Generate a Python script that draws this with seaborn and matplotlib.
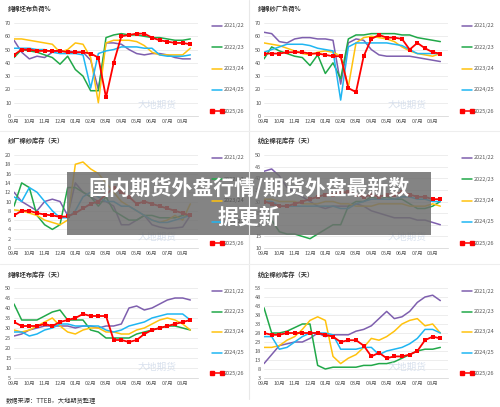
import matplotlib
matplotlib.use("Agg")
import matplotlib.pyplot as plt
import seaborn as sns
import pandas as pd
from matplotlib.patches import Rectangle

sns.set_theme(style="white")
plt.rcParams['font.family'] = ['Noto Sans CJK SC', 'DejaVu Sans']

months = ["09月", "10月", "11月", "12月", "01月", "02月", "03月", "04月", "05月", "06月", "07月", "08月"]
seasons = ["2021/22", "2022/23", "2023/24", "2024/25", "2025/26"]
colors = ["#7E5FAE", "#21A849", "#FFC20E", "#1FB6F2", "#FF0000"]

titles = ["纯棉坯布负荷%", "纯棉纱厂负荷%", "纱厂棉纱库存（天）", "纺企棉花库存（天）", "纯棉坯布库存（天）", "纺企棉纱库存（天）"]
yticks = [list(range(0, 71, 10)), list(range(0, 71, 10)), list(range(0, 21, 2)),
          list(range(10, 51, 5)), list(range(5, 51, 5)), list(range(3, 54, 5))]

p1 = [
    [57,48,43,45,44,48,49,49,48,48,42,20,55,55,54,50,47,46,47,47,46,44,43,43],
    [44,50,49,48,46,44,39,45,35,30,19,19,59,61,62,61,61,60,59,59,58,57,57,58],
    [58,58,57,56,55,54,48,50,55,54,44,10,55,57,57,57,56,53,48,46,46,46,46,51],
    [51,51,51,50,50,48,47,47,47,46,21,47,49,50,52,52,52,51,51,46,45,45,45,46],
    [46,50,50,49,49,49,49,48,48,48,47,44,14,40,60,61,62,62,59,57,56,55,55,54],
]
p2 = [
    [63,62,56,55,58,59,59,58,58,57,24,55,58,57,50,46,45,45,45,45,44,43,42,41],
    [43,52,49,47,45,44,38,46,32,40,28,58,61,61,62,62,62,62,61,61,59,58,57,56],
    [55,54,53,51,49,47,46,48,49,48,45,22,55,59,60,59,58,56,52,49,47,46,45,47],
    [48,50,52,54,54,54,53,51,50,49,12,52,55,55,55,55,55,54,53,50,47,47,47,47],
    [47,47,47,48,48,48,47,47,46,45,45,21,18,45,58,61,59,59,58,50,55,51,48,47],
]
p3 = [
    [12,10,9,8,10,10.5,10,7,14,12,11,10,10,9,5,5,6,7,5,4.5,4.2,4.3,4.5,7],
    [9,14,13,7,5,4,5,13,13,12,11,9,11,8,7,6,6,7,7,6.5,6.5,6.5,7,7],
    [8.2,8,7.5,7,6,5.5,5,6,18,18.5,17,16,14,12,10,9,8,7,6,5.5,6,7,6,9.5],
    [11,10,13,12,10,8,6.5,6.5,8,11,12,11,10,10,9,9,8,7,6,5.5,5.5,6,6.5,7],
    [7,8,8,7.5,7.2,7,6.7,6.8,7.5,8.5,9.5,10,11.5,13,12,11,9.5,10,9.5,9,8.5,8,7.5,7],
]
p4 = [
    [43,44,41,36,34,32,30,28,27,28,28,28,29,28,26,25,24,23,23,23,22,22,21,20],
    [23,22,17,16,16,15,14,16,18,20,20,28,30,30,32,31,32,31,31,29,27,27,28,30],
    [31,31,30,30,30,29,29,29,30,30,29,29,28,28,28,29,29,29,29,28,28,28,29,28],
    [30,30,28,28,28,28,28,28,28,28,27,27,29,30,31,31,31,31,32,32,31,31,30,30],
    [30,29,28,28,29,30,31,32,33,33,34,34,33,32,33,32,33,33,34,33,32,32,31,31],
]
p5 = [
    [26,27,29,30,31,31,31,31,30,31,31,30,31,31,32,40,41,39,40,42,44,45,45,44],
    [42,34,34,34,36,38,39,34,34,34,29,28,25,25,25,25,27,28,29,30,31,31,30,29],
    [29,28,29,31,33,35,31,28,27,29,30,30,28,28,27,27,29,30,32,34,35,34,32,29],
    [28,28,26,27,29,30,32,32,31,31,31,31,29,28,29,31,32,33,35,36,37,37,37,34],
    [33,31,31,31,32,31,33,34,35,37,36,36,36,24,24,23,24,27,29,30,31,32,33,34],
]
p6 = [
    [11,16,21,22,23,23,25,28,26,27,27,27,29,30,32,36,40,36,37,40,45,48,49,46],
    [42,28,28,29,31,33,33,10,8,9,9,9,9,10,10,11,11,12,14,16,18,19,19,20],
    [20,20,21,24,26,30,35,37,35,15,11,14,16,20,25,24,26,29,33,35,36,32,33,28],
    [26,26,19,20,23,26,28,28,28,27,19,19,19,20,20,16,18,19,20,22,25,30,30,28],
    [28,27,27,28,28,28,28,28,27,26,23,24,24,21,15,17,14,15,15,16,18,24,26,25],
]
panels = [p1, p2, p3, p4, p5, p6]

W, H = 500, 407
fig = plt.figure(figsize=(5.0, 4.07), dpi=100)

# axes boxes in pixels (left, top, right, bottom)
rows = [(23, 116), (155, 248), (288, 378)]
cols = [(14, 198), (264, 448)]
title_y = [9, 141, 274]

for i, data in enumerate(panels):
    r, c = divmod(i, 2)
    (x0, x1), (y0, y1) = cols[c], rows[r]
    ax = fig.add_axes([x0 / W, 1 - y1 / H, (x1 - x0) / W, (y1 - y0) / H])
    handles = []
    for k, (s, col) in enumerate(zip(seasons, colors)):
        df = pd.DataFrame({"x": range(len(data[k])), "y": data[k]})
        if s == "2025/26":
            sns.lineplot(data=df, x="x", y="y", ax=ax, color=col, lw=1.3,
                         marker="s", markersize=2.5, markeredgewidth=0)
        else:
            sns.lineplot(data=df, x="x", y="y", ax=ax, color=col, lw=1.1)
    yt = yticks[i]
    ax.set_ylim(yt[0], yt[-1])
    ax.set_yticks(yt)
    ax.set_xlim(0, 24)
    ax.set_xticks(range(0, 24, 2))
    ax.set_xticklabels(months)
    ax.set_xlabel("")
    ax.set_ylabel("")
    ax.tick_params(labelsize=4, colors="#555555", length=0, pad=2)
    ax.yaxis.grid(True, color="#E6E6E6", lw=0.5)
    for sp in ["top", "right", "left"]:
        ax.spines[sp].set_visible(False)
    ax.spines["bottom"].set_color("#D0D0D0")
    ax.spines["bottom"].set_linewidth(0.5)
    # legend
    lx = (x1 + 14) / W
    for k, (s, col) in enumerate(zip(seasons, colors)):
        ly = 1 - (y0 + 3 + k * (y1 - y0 - 8) / 4) / H
        fig.add_artist(plt.Line2D([lx, lx + 10 / W], [ly, ly], color=col, lw=1.1,
                                  marker="s" if k == 4 else None, markersize=2.5,
                                  markevery=[0, 1] if k == 4 else None))
        fig.text(lx + 12 / W, ly, s, fontsize=4, color="#555555", va="center")
    # watermark
    ax.text(0.78, 0.12, "大地期货", transform=ax.transAxes, fontsize=7,
            color="#C8D4E6", ha="center", va="center", alpha=0.7)
    fig.text((x0 - 6) / W, 1 - title_y[r] / H, titles[i], fontsize=4.5,
             fontweight="bold", color="#333333", va="center")

# separators
fig.add_artist(plt.Line2D([249 / W, 249 / W], [0.02, 1], color="#E8E8E8", lw=0.8))
for yy in [131, 264]:
    fig.add_artist(plt.Line2D([0, 1], [1 - yy / H, 1 - yy / H], color="#EEEEEE", lw=0.8))

fig.text(6 / W, 1 - 401 / H, "数据来源：TTEB，大地期货整理", fontsize=4.5, color="#333333", va="center")

# banner
fig.add_artist(Rectangle((67 / W, 1 - 235 / H), (431 - 67) / W, (235 - 172) / H,
                         transform=fig.transFigure, facecolor="#6E6E6E", alpha=0.85, edgecolor="none"))
fig.text(249 / W, 1 - 188 / H, "国内期货外盘行情/期货外盘最新数", fontsize=15, fontweight="bold",
         color="white", ha="center", va="center")
fig.text(249 / W, 1 - 217 / H, "据更新", fontsize=15, fontweight="bold",
         color="white", ha="center", va="center")

fig.savefig("out.png", dpi=100)
